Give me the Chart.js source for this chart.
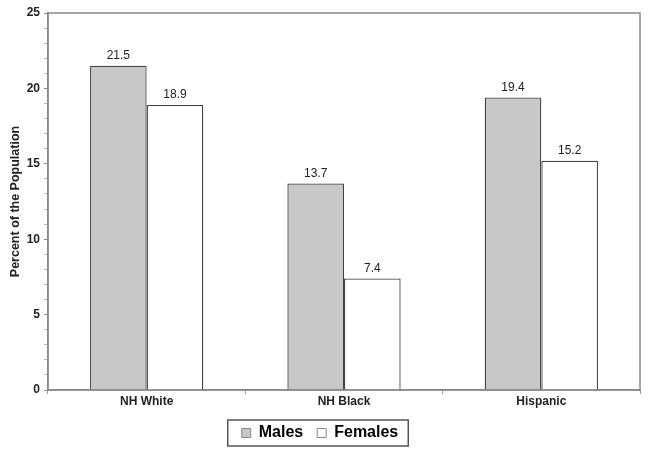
<!DOCTYPE html>
<html>
<head>
<meta charset="utf-8">
<script src="https://cdn.jsdelivr.net/npm/chart.js@4.4.0/dist/chart.umd.min.js"></script>
<style>
  html, body { margin: 0; padding: 0; background: #fff; }
  #wrap { width: 649px; height: 455px; }
</style>
</head>
<body>
<div id="wrap"><canvas id="popChart" width="649" height="455"></canvas></div>
<script>
var groups = ["NH White", "NH Black", "Hispanic"];
var males = [21.5, 13.7, 19.4];
var females = [18.9, 7.4, 15.2];
var yTicks = [0, 5, 10, 15, 20, 25];

// values above each bar
var barLabels = {
  id: 'barLabels',
  afterDatasetsDraw: function (chart) {
    var ctx = chart.ctx;
    ctx.save();
    ctx.font = '12px "Liberation Sans", Arial, sans-serif';
    ctx.fillStyle = '#222';
    ctx.textAlign = 'center';
    ctx.textBaseline = 'bottom';
    chart.data.datasets.forEach(function (ds, i) {
      chart.getDatasetMeta(i).data.forEach(function (bar, j) {
        ctx.fillText(ds.data[j].toFixed(1), bar.x, bar.y - 4);
      });
    });
    ctx.restore();
  }
};

// frame round the plot and round the legend
var frames = {
  id: 'frames',
  afterDraw: function (chart) {
    var ctx = chart.ctx;
    var a = chart.chartArea;
    ctx.save();
    ctx.strokeStyle = '#888';
    ctx.lineWidth = 1.5;
    ctx.strokeRect(a.left, a.top, a.right - a.left, a.bottom - a.top);

    var boxes = chart.legend.legendHitBoxes;
    if (boxes && boxes.length) {
      var l = Math.min.apply(null, boxes.map(function (b) { return b.left; }));
      var r = Math.max.apply(null, boxes.map(function (b) { return b.left + b.width; }));
      var t = Math.min.apply(null, boxes.map(function (b) { return b.top; }));
      var bt = Math.max.apply(null, boxes.map(function (b) { return b.top + b.height; }));
      ctx.strokeStyle = '#555';
      ctx.lineWidth = 1.5;
      ctx.strokeRect(l - 14, t - 5, (r - l) + 24, (bt - t) + 10);
    }
    ctx.restore();
  }
};

var ctx = document.getElementById("popChart").getContext("2d");
var popChart = new Chart(ctx, {
  type: 'bar',
  data: {
    labels: groups,
    datasets: [
      {
        label: "Males",
        data: males,
        backgroundColor: "#c8c8c8",
        borderColor: "#444",
        borderWidth: 1.3,
        categoryPercentage: 0.574,
        barPercentage: 1.0
      },
      {
        label: "Females",
        data: females,
        backgroundColor: "#ffffff",
        borderColor: "#444",
        borderWidth: 1.3,
        categoryPercentage: 0.574,
        barPercentage: 1.0
      }
    ]
  },
  options: {
    responsive: false,
    animation: false,
    devicePixelRatio: 1,
    layout: { padding: { left: 0, top: 13, right: 9, bottom: 4 } },
    scales: {
      y: {
        min: 0,
        max: 25,
        afterFit: function (scale) { scale.width = 48; },
        ticks: {
          stepSize: 1,
          autoSkip: false,
          padding: 4,
          color: '#222',
          font: { family: '"Liberation Sans", Arial, sans-serif', size: 12, weight: 'bold' },
          callback: function (v) { return yTicks.indexOf(v) >= 0 ? v : ''; }
        },
        grid: {
          drawOnChartArea: false,
          tickLength: 4,
          tickColor: function (c) { return c.tick && c.tick.value % 5 === 0 ? '#888' : '#bbb'; }
        },
        border: { color: '#888', width: 1.5 },
        title: {
          display: true,
          text: 'Percent of the Population',
          color: '#222',
          padding: { top: 8, bottom: 0 },
          font: { family: '"Liberation Sans", Arial, sans-serif', size: 12.5, weight: 'bold' }
        }
      },
      x: {
        afterFit: function (scale) { scale.height = 21; },
        ticks: {
          padding: 0,
          color: '#222',
          font: { family: '"Liberation Sans", Arial, sans-serif', size: 12, weight: 'bold' }
        },
        grid: {
          offset: true,
          drawOnChartArea: false,
          tickLength: 4,
          tickColor: '#999'
        },
        border: { color: '#888', width: 1.5 }
      }
    },
    plugins: {
      legend: {
        position: 'bottom',
        labels: {
          boxWidth: 9,
          boxHeight: 9,
          padding: 14,
          color: '#222',
          font: { family: '"Liberation Sans", Arial, sans-serif', size: 16, weight: 'bold' },
          generateLabels: function (chart) {
            return chart.data.datasets.map(function (ds, i) {
              return {
                text: ds.label,
                fillStyle: ds.backgroundColor,
                strokeStyle: '#888',
                lineWidth: 1,
                datasetIndex: i
              };
            });
          }
        }
      },
      tooltip: { enabled: false }
    }
  },
  plugins: [barLabels, frames]
});
</script>
</body>
</html>
